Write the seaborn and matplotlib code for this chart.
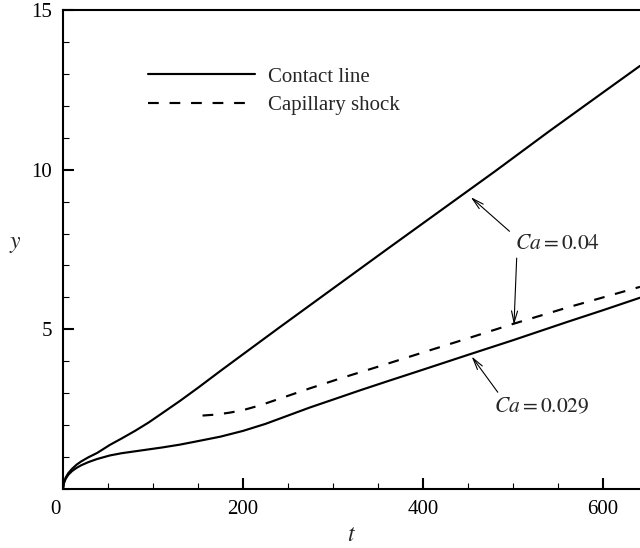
import numpy as np
import pandas as pd
import matplotlib
matplotlib.use("Agg")
import matplotlib.pyplot as plt
import matplotlib.transforms as mtransforms
import seaborn as sns
from matplotlib.ticker import MultipleLocator

# Data
t_contact_004 = [0, 1, 3, 6, 10, 15, 20, 28, 38, 52, 65, 80, 95, 110, 130, 150, 175, 200, 240, 300, 360, 420, 480, 540, 600, 641]
y_contact_004 = [0, 0.2, 0.36, 0.5, 0.63, 0.76, 0.86, 0.99, 1.13, 1.38, 1.58, 1.82, 2.08, 2.37, 2.76, 3.17, 3.70, 4.22, 5.05, 6.28, 7.51, 8.73, 9.95, 11.2, 12.42, 13.25]

t_contact_0029 = [0, 1, 3, 6, 10, 15, 20, 28, 38, 52, 65, 80, 95, 110, 130, 150, 175, 200, 225, 250, 274, 300, 330, 360, 397, 452, 500, 560, 600, 641]
y_contact_0029 = [0, 0.18, 0.32, 0.45, 0.56, 0.66, 0.74, 0.84, 0.94, 1.05, 1.12, 1.18, 1.24, 1.30, 1.39, 1.50, 1.64, 1.82, 2.04, 2.30, 2.55, 2.80, 3.09, 3.37, 3.71, 4.22, 4.66, 5.23, 5.60, 5.99]

t_shock_004 = [155, 170, 185, 200, 219, 245, 274, 310, 350, 397, 450, 500, 560, 600, 641]
y_shock_004 = [2.30, 2.33, 2.39, 2.47, 2.62, 2.87, 3.15, 3.48, 3.83, 4.25, 4.72, 5.17, 5.68, 6.00, 6.33]

legend_labels = ["Contact line", "Capillary shock"]

sns.set_theme(style="ticks")
plt.rcParams['font.family'] = ['Liberation Serif', 'DejaVu Serif']
plt.rcParams['mathtext.fontset'] = 'stix'

fig = plt.figure(figsize=(6.4, 5.48), dpi=100)
ax = fig.add_axes([63/640, 59/548, 1 - 63/640, (489-10)/548])

df1 = pd.DataFrame({"t": t_contact_004, "y": y_contact_004})
df2 = pd.DataFrame({"t": t_contact_0029, "y": y_contact_0029})
df3 = pd.DataFrame({"t": t_shock_004, "y": y_shock_004})

lw = 1.55
sns.lineplot(data=df1, x="t", y="y", ax=ax, color="black", lw=lw, label=legend_labels[0])
sns.lineplot(data=df2, x="t", y="y", ax=ax, color="black", lw=lw)
sns.lineplot(data=df3, x="t", y="y", ax=ax, color="black", lw=lw, label=legend_labels[1])
ax.lines[2].set_dashes([5, 5])
for ln in ax.lines:
    ln.set_solid_joinstyle('round')

ax.set_xlim(0, 641)
ax.set_ylim(0, 15)
ax.xaxis.set_major_locator(MultipleLocator(200))
ax.xaxis.set_minor_locator(MultipleLocator(50))
ax.set_yticks([5, 10, 15])
ax.set_yticks(range(0, 16), minor=True)
ax.tick_params(which='major', direction='in', length=8, width=1.5, labelsize=15, pad=8, colors='black')
ax.tick_params(which='minor', direction='in', length=4.5, width=0.8, colors='black')

for s in ['left', 'bottom', 'top']:
    ax.spines[s].set_linewidth(1.5)
    ax.spines[s].set_color('black')
ax.spines['right'].set_visible(False)

ax.set_xlabel("$t$", fontsize=17, labelpad=4)
ax.set_ylabel("$y$", fontsize=17, rotation=0, va='center', ha='center')
ax.yaxis.set_label_coords(-0.083, 0.51)

# shift the "0" tick label slightly left as in the reference
fig.canvas.draw()
for lbl in ax.get_xticklabels():
    if lbl.get_text() in ("0", "−0"):
        lbl.set_transform(lbl.get_transform() + mtransforms.ScaledTranslation(-8/100, 0, fig.dpi_scale_trans))

leg = ax.legend(loc='upper left', bbox_to_anchor=(148/640, (548-67)/548), bbox_transform=fig.transFigure,
                frameon=False, fontsize=15, handlelength=5.15, handletextpad=0.6,
                borderpad=0, borderaxespad=0, labelspacing=0.42)

arrow = dict(arrowstyle='->,head_length=0.7,head_width=0.18', lw=0.8, color='black', shrinkA=0, shrinkB=0)
ax.annotate("", xy=(453, 9.14), xytext=(496, 8.07), arrowprops=arrow)
ax.annotate("", xy=(501, 5.14), xytext=(504, 7.23), arrowprops=arrow)
ax.annotate("", xy=(454, 4.15), xytext=(483, 3.03), arrowprops=arrow)
ax.text(549, 7.65, "$Ca = 0.04$", ha='center', va='center', fontsize=15.5)
ax.text(532, 2.57, "$Ca = 0.029$", ha='center', va='center', fontsize=15.5)

fig.savefig("out.png", dpi=100, facecolor='white')
